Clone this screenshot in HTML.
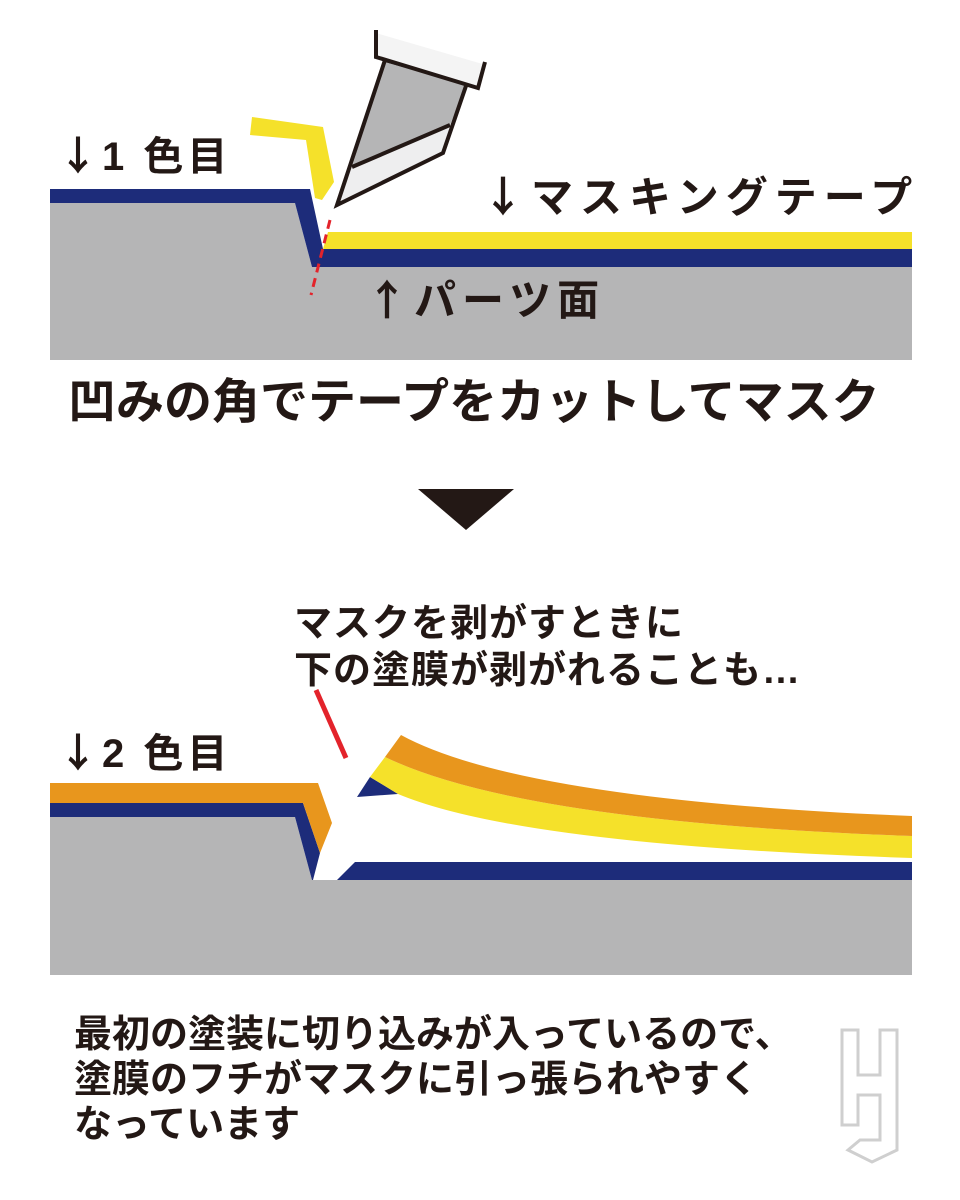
<!DOCTYPE html>
<html><head><meta charset="utf-8"><style>
html,body{margin:0;padding:0;background:#fff;}
svg{display:block;}
text{font-family:"Liberation Sans","Noto Sans CJK JP",sans-serif;font-weight:bold;fill:#231815;}
.a{font-family:"Noto Sans CJK JP",sans-serif;}
</style></head><body>
<svg width="960" height="1200" viewBox="0 0 960 1200" xmlns="http://www.w3.org/2000/svg">
<polygon points="50,203 295,203 312,267 912,267 912,360 50,360" fill="#b5b5b6"/>
<polygon points="50,189 310,189 323,249 912,249 912,267 312,267 295,203 50,203" fill="#1d2c7a"/>
<polygon points="328,232 912,232 912,249 323,249" fill="#f5e12a"/>
<line x1="330" y1="220" x2="311" y2="295" stroke="#e3232b" stroke-width="3" stroke-dasharray="9,6"/>
<polygon points="252,117 323,127 334,182 322,200 315,198 306,140 250,135" fill="#f5e12a"/>
<polygon points="385,60 467,83 450,125 352,167" fill="#b5b5b6"/>
<polygon points="352,167 450,125 443,153 337,205" fill="#eeeeef"/>
<polygon points="385,60 467,83 443,153 337,205" fill="none" stroke="#231815" stroke-width="4" stroke-linejoin="miter"/>
<line x1="352" y1="167" x2="450" y2="125" stroke="#231815" stroke-width="4"/>
<polygon points="376,33 486,65 478,88 376,57" fill="#f4f4f4"/>
<polyline points="376,30 376,57 478,88 485,62" fill="none" stroke="#231815" stroke-width="4"/>
<text x="58" y="170" font-size="40" letter-spacing="4"><tspan class="a">↓</tspan>1 色目</text>
<text x="482" y="212" font-size="42" letter-spacing="7"><tspan class="a">↓</tspan>マスキングテープ</text>
<text x="366" y="315" font-size="42" letter-spacing="6"><tspan class="a">↑</tspan>パーツ面</text>
<text x="68" y="418" font-size="48" letter-spacing="0">凹みの角でテープをカットしてマスク</text>
<polygon points="418,489 514,489 466,530" fill="#231815"/>
<polygon points="50,817 295,817 312,880 912,880 912,975 50,975" fill="#b5b5b6"/>
<polygon points="50,803 303,803 320,853 313,880 312,880 295,817 50,817" fill="#1d2c7a"/>
<polygon points="50,783 318,783 332,823 320,853 303,803 50,803" fill="#e8961d"/>
<polygon points="355,862 912,862 912,880 337,880" fill="#1d2c7a"/>
<polygon points="357,797 370,777 398,794" fill="#1d2c7a"/>
<path d="M370,777 L385,757 Q520,822 912,836 L912,858 Q520,845 398,794 Z" fill="#f5e12a"/>
<path d="M385,757 L401,735 Q520,800 912,816 L912,836 Q520,822 385,757 Z" fill="#e8961d"/>
<line x1="316" y1="690" x2="346" y2="758" stroke="#e3232b" stroke-width="5"/>
<text x="294" y="636" font-size="38" letter-spacing="1">マスクを剥がすときに</text>
<text x="294" y="683" font-size="38" letter-spacing="1">下の塗膜が剥がれることも…</text>
<text x="58" y="767" font-size="40" letter-spacing="4"><tspan class="a">↓</tspan>2 色目</text>
<text x="74" y="1047" font-size="38">最初の塗装に切り込みが入っているので、</text>
<text x="74" y="1092" font-size="38">塗膜のフチがマスクに引っ張られやすく</text>
<text x="74" y="1137" font-size="38">なっています</text>
<g fill="none" stroke="#cfcfcf" stroke-width="3">
<polygon points="842,1030 858,1030 858,1075 880,1075 880,1030 897,1030 897,1150 872,1162 848,1150 860,1140 880,1140 880,1095 858,1095 858,1125 842,1125"/>
</g>
</svg>
</body></html>
